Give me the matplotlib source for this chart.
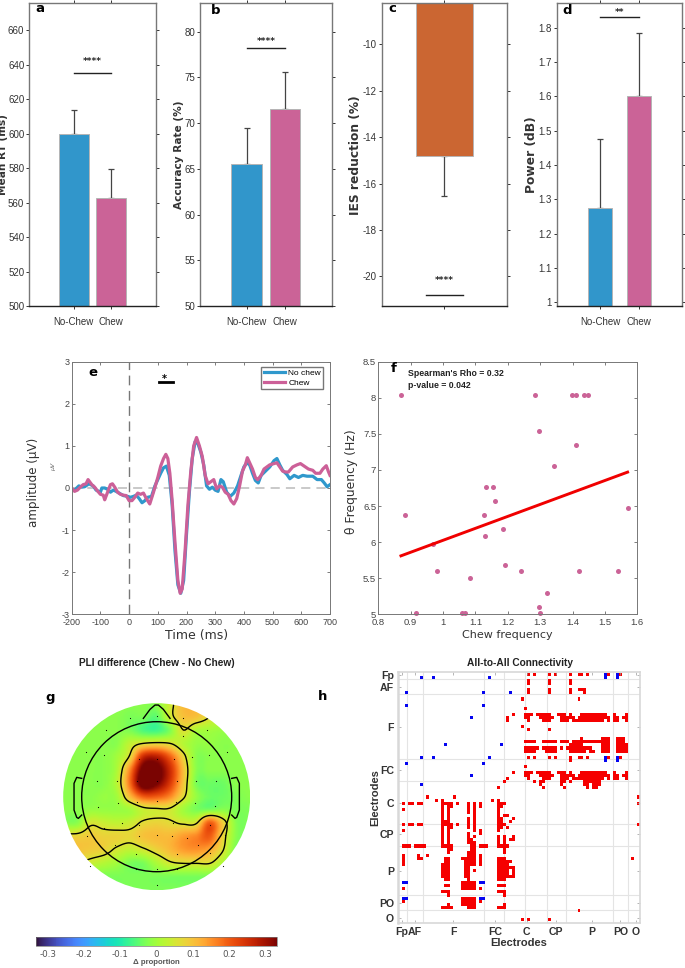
import numpy as np
import matplotlib
matplotlib.use("Agg")
import matplotlib.pyplot as plt
from matplotlib.cm import ScalarMappable
from matplotlib.colors import ListedColormap, Normalize
from matplotlib.patches import Circle
from matplotlib.ticker import FuncFormatter

plt.rcParams["axes.unicode_minus"] = False

W, H = 685, 968
BLUE = "#3196cb"
PINK = "#cb6397"
ORANGE = "#cb6632"
ARIAL = ["Liberation Sans"]

# behavioural bars
conditions = ["No-Chew", "Chew"]
rt_means = [600, 562.5]
rt_errs = [14, 17]
acc_means = [65.5, 71.5]
acc_errs = [4, 4.1]
ies_mean = -14.8
ies_err = 1.75
power_means = [1.275, 1.602]
power_errs = [0.202, 0.182]

# ERP traces
nochew_t = [-200,-190,-175,-165,-155,-140,-125,-115,-100,-95,-85,-75,-65,-55,-45,-35,-20,-5,5,15,25,35,45,55,65,78,90,100,110,120,130,140,150,160,170,180,190,200,210,220,230,240,250,260,270,280,290,300,310,320,328,340,352,365,378,390,400,410,420,430,440,450,460,475,490,505,515,525,535,550,560,575,590,605,620,640,655,670,680,690,700]
nochew_v = [-0.03,-0.05,0.05,0.02,0.03,0.1,0.05,-0.05,-0.1,0,0,-0.03,-0.1,-0.05,-0.08,-0.12,-0.18,-0.2,-0.22,-0.2,-0.17,-0.25,-0.35,-0.3,-0.22,-0.2,0.05,0.2,0.35,0.48,0.52,0.3,-0.4,-1.5,-2.3,-2.5,-2.2,-1.1,-0.1,0.7,1.1,1.05,0.85,0.55,0.05,-0.03,0.02,-0.05,-0.08,0.2,0.15,-0.1,-0.2,-0.12,0.05,0.3,0.5,0.6,0.55,0.35,0.18,0.12,0.3,0.4,0.5,0.65,0.7,0.55,0.42,0.32,0.22,0.3,0.25,0.3,0.28,0.28,0.2,0.2,0.12,0.03,0.08]
chew_t = [-200,-190,-180,-170,-160,-150,-143,-130,-120,-110,-100,-90,-85,-75,-65,-58,-50,-40,-30,-20,-10,0,10,20,30,40,50,60,72,85,100,110,120,128,135,142,150,160,170,178,185,195,205,215,225,235,245,255,265,275,285,295,305,315,325,335,345,355,365,375,385,395,405,412,420,430,440,448,460,470,480,490,505,515,525,535,545,555,570,585,597,610,625,640,650,665,675,687,695,700]
chew_v = [0,-0.08,-0.05,0.02,0.08,0.1,0.2,0.08,0.02,-0.07,-0.15,-0.17,-0.28,-0.1,0.08,0.1,0.02,-0.1,-0.15,-0.17,-0.18,-0.3,-0.3,-0.22,-0.12,-0.15,-0.12,-0.25,-0.38,-0.1,0.25,0.52,0.7,0.8,0.7,0.35,-0.3,-1.3,-2.2,-2.5,-2.4,-1.5,-0.4,0.4,1.0,1.2,1.0,0.75,0.3,0.1,0.15,0.2,-0.02,0.05,0.02,-0.1,-0.15,-0.3,-0.38,-0.25,0.05,0.4,0.55,0.72,0.6,0.45,0.25,0.2,0.3,0.45,0.5,0.55,0.58,0.6,0.5,0.4,0.38,0.38,0.5,0.55,0.58,0.52,0.45,0.42,0.35,0.35,0.45,0.53,0.38,0.3]

# correlation scatter
chew_freq = [0.87,0.883,0.915,0.97,0.98,1.06,1.067,1.082,1.128,1.13,1.132,1.153,1.16,1.185,1.19,1.24,1.285,1.295,1.297,1.298,1.32,1.343,1.398,1.412,1.41,1.42,1.436,1.447,1.54,1.572]
theta_freq = [8.04,6.38,5.02,5.98,5.6,5.02,5.02,5.5,6.38,6.08,6.76,6.76,6.57,6.18,5.69,5.6,8.04,5.1,7.54,5.02,5.3,7.06,8.04,8.04,7.35,5.6,8.04,8.04,5.6,6.47]
fit_x = [0.87, 1.57]
fit_y = [5.81, 6.97]

# scalp map, coarse samples in hundredths of a proportion
topo_axis = np.arange(-280, 281, 40) / 3
topo_grid = [
    [-2,-2,-2,-2,-2,-2,-2,-2, 4,11,11, 9,-2,-2,-2],
    [-2,-2,-2,-2,-2,-3,-3,-5, 4,10,10, 6, 2,-2,-2],
    [-2,-2,-2,-2,-2,-3,-6,-7,-3, 6, 1, 0,-1,-2,-2],
    [-2,-2,-2,-2,-2, 3, 6, 7, 6, 2,-1,-1,-2,-2,-2],
    [-2,-2,-2,-2, 0, 7,26,28,20, 8,-2,-2,-2,-2,-2],
    [-2,-2,-2,-2, 1,16,36,36,26,11,-2,-2,-2,-2,-2],
    [-2,-2,-2,-2, 2,18,38,34,24,10,-3,-4,-4,-2,-2],
    [-2,-2,-2,-1, 0,11,20,20,16, 7,-1,-4,-4,-3,-2],
    [-2,-2,-1,-1,-1, 0, 4, 5, 5, 0,-3,-3,-2,-3,-3],
    [-2,-2, 5, 4, 3, 4, 7, 8, 7,5.5,6,20, 9,-2,-3],
    [ 8, 8, 9, 8, 8,7.5,10,11,11,14,16,20, 8,-2,-3],
    [10,10, 9, 8, 5, 3, 5, 8,11,14,15,13, 6,-3,-3],
    [ 6, 6, 4, 2, 0,-3,-3, 1, 5, 6, 6, 6, 1,-3,-3],
    [-3,-3,-3,-3,-3,-3,-3,-3,-3,-3,-3,-3,-3,-3,-3],
    [-3,-3,-3,-3,-3,-3,-3,-3,-3,-3,-3,-3,-3,-3,-3],
]
electrode_x = [390,470,548,317,622,548,258,680,312,577,628,418,470,522,292,352,410,470,530,588,648,295,355,412,470,527,585,645,367,418,520,312,630,262,676,470,515,560,418,345,595,408,530,630,270,668,470,408,530,470]
electrode_y = [203,198,205,240,240,258,305,305,316,320,316,327,327,327,394,394,394,394,394,394,394,470,460,455,452,455,460,467,518,525,520,535,525,558,555,555,557,565,558,585,585,613,613,608,648,648,658,658,658,705]
nose_x = [-40,-20,-5,5,20,40]
nose_y = [-235,-262,-275,-275,-262,-235]
ear_x = [-225,-240,-248,-248,-240,-235,-225]
ear_y = [-55,-58,-40,40,62,65,55]

# connectivity matrix, significant pairs per row as single columns or (first, last)
n_channels = 81
red_pairs = {
    0: [43,45,50,52,57,(60,61),63,70,74], 2: [43,50,57], 3: [43,50,57],
    5: [43,50,57,(60,62)], 6: [43,50,57,62], 8: [41,60], 11: [42],
    13: [38,(42,44),(46,50),(53,55),57,(61,68),69,72,76],
    14: [36,(42,43),(47,51),(54,56),(57,58),(60,68),(69,70),(72,73),75,76],
    15: [36,43,(48,50),(54,56),(58,59),(60,68),70,(72,73),76],
    17: [41], 18: [43,50], 21: [61,(68,70),(73,75)],
    22: [(42,45),(48,52),(54,56),(58,59),(60,67),(68,70),(73,75)],
    23: [(57,59),(60,61),(68,70),(73,75),76],
    24: [(42,45),46,(48,52),54,(56,59),(60,63),64,(68,70),(73,75),76],
    25: [(42,45),(49,52),(57,59),(60,62),(64,65),(68,70),(73,75),76],
    27: [43,45,50,52,57,(60,61),63,70,74], 28: [57], 30: [42],
    32: [38,(42,44),(46,50),(53,55),57,(61,68),69,72,76],
    33: [(42,43),(47,51),(54,56),(57,58),(60,68),(69,70),(72,73),75,76],
    34: [36,43,(48,50),(54,56),(58,59),(60,68),70,(72,73),76],
    35: [35,45,(47,48),(54,55),57,(62,67)], 36: [47,54,(62,63),(65,67)],
    37: [33,48,55,63,65,66], 40: [9,18,80], 41: [12,14,31,33],
    42: [1,(3,4),(6,7),(14,17),19,23,25,27,(33,35),80],
    43: [14,(16,17),23,25,27,(33,34)], 44: [1,14,16,23,25,33],
    45: [14,16,23,25,33], 46: [14,16,25,33,35,36],
    47: [14,16,23,25,33,34,38], 48: [(14,16),23,25,(33,34),37],
    49: [1,(3,4),(6,7),(14,17),19,23,25,(33,35),80],
    50: [14,(16,17),23,25,(33,34),36], 51: [1,14,16,25,27,33],
    52: [14,16,23,27], 53: [14,16,23,25,33,35,38],
    54: [14,16,23,24,33,35,37,38], 55: [14,16,(23,25),33,35],
    56: [(1,3),5,(6,8),(14,17),(24,25),(27,29),(33,36)],
    57: [(16,17),(24,25),35], 58: [16,(23,25),35], 59: [1,6,9,(23,25),27],
    60: [1,(6,7),(15,16),(21,25),27,(33,35),78],
    61: [1,(15,16),(22,25),27,(33,37)], 62: [1,(14,16),(22,25),27,(33,36)],
    63: [(14,16),(22,23),(33,38)], 64: [(14,16),22,23,25,(33,36),38],
    65: [(14,16),(22,23),(33,36),38], 66: [(14,16),(22,23),(33,38)],
    67: [(15,16),23,(33,35)], 68: [(21,25)], 69: [(15,16),(21,25),(33,35)],
    70: [1,27,(21,25)], 71: [(14,16),(33,35)], 72: [16,35], 73: [(21,25)],
    74: [1,27,(21,25)], 75: [16,(21,25),35], 76: [(14,17),(23,25),(33,35)],
    77: [60], 80: [41,43,50],
}
blue_pairs = {
    0: [69,73], 1: [7,11,30,69,73], 6: [2,28,37], 10: [2,28], 14: [24], 23: [15,34],
    27: [7,11,30,69,73], 28: [69,73], 29: [2,28], 33: [24], 36: [7],
    68: [(1,2),(27,28)], 73: [(1,2),(27,28)],
}
region_names = ["Fp","AF","F","FC","C","CP","P","PO","O"]
region_x = [0.5,5,18,32,42.7,52.5,64.6,74.3,79.4]
region_y = [0,4,17,31,42,52,64,74.5,79.5]
grid_cols = [2.45,7.6,28.3,35,42,49.4,56,71.9,76.9]
grid_rows = [1.5,6.4,27.6,34.6,48.7,55.8,72,77]


def px_axes(left, top, right, bottom):
    return fig.add_axes([left / W, 1 - bottom / H, (right - left) / W, (bottom - top) / H])


def px_text(x, y, s, **kw):
    kw.setdefault("ha", "center")
    kw.setdefault("va", "center")
    return fig.text(x / W, 1 - y / H, s, **kw)


def bar_panel(box, xlim, ylim, yticks, means, errs, width, sig_y, star_y, stars):
    ax = px_axes(*box)
    ax.bar([1, 2], means, width=width, color=[BLUE, PINK], edgecolor="#b5b5b5", linewidth=0.7, zorder=2)
    ax.errorbar([1, 2], means, yerr=[[0, 0], errs], fmt="none", ecolor="#444444", elinewidth=0.9,
                capsize=2.4, capthick=0.9, zorder=1)
    ax.plot([1, 2], [sig_y, sig_y], color="#222222", lw=1)
    ax.text(1.5, star_y, stars, ha="center", va="center", fontsize=6.5, color="#222222", fontweight="bold")
    style_box(ax, xlim, ylim, yticks)
    ax.set_xticks([1, 2], conditions, fontfamily=ARIAL, fontsize=7, color="#333333")
    ax.tick_params(axis="x", pad=6)
    return ax


def style_box(ax, xlim, ylim, yticks):
    ax.set_xlim(*xlim)
    ax.set_ylim(*ylim)
    ax.set_yticks(yticks)
    ax.tick_params(axis="both", direction="out", length=2.2, width=0.7, color="#333333", top=True, right=True,
                   labelsize=7, labelcolor="#333333", pad=1.2)
    for label in ax.get_yticklabels():
        label.set_fontfamily(ARIAL)
    for side in ax.spines:
        ax.spines[side].set_color("#777777")
        ax.spines[side].set_linewidth(1)
    ax.spines["bottom"].set_color("#222222")


def light_box(ax, size):
    ax.tick_params(direction="in", length=2.5, width=0.6, color="#666666", labelsize=size, labelcolor="#444444",
                   pad=1.5, top=True, right=True)
    ax.tick_params(axis="x", pad=2.8)
    for label in ax.get_xticklabels() + ax.get_yticklabels():
        label.set_fontfamily(ARIAL)
    for side in ax.spines:
        ax.spines[side].set_color("#777777")
        ax.spines[side].set_linewidth(0.7)


def expand(pairs):
    cells = []
    for row, cols in pairs.items():
        for col in cols:
            first, last = col if isinstance(col, tuple) else (col, col)
            cells += [(row, c) for c in range(first, last + 1)]
    return cells


def upsample(values, factor):
    # Catmull-Rom resampling along the first axis
    n = values.shape[0]
    pos = np.linspace(0, n - 1, (n - 1) * factor + 1)
    i = np.clip(pos.astype(int), 0, n - 2)
    t = (pos - i)[:, None]
    p0 = values[np.clip(i - 1, 0, n - 1)]
    p1 = values[i]
    p2 = values[i + 1]
    p3 = values[np.clip(i + 2, 0, n - 1)]
    return 0.5 * (2 * p1 + (p2 - p0) * t + (2 * p0 - 5 * p1 + 4 * p2 - p3) * t ** 2 + (3 * p1 - p0 - 3 * p2 + p3) * t ** 3)


fig = plt.figure(figsize=(W / 100, H / 100), dpi=100, facecolor="white")

# a-d: bar panels
bar_panel((29, 3.3, 156, 306), (-0.2, 3.2), (500, 675.7), range(500, 661, 20), rt_means, rt_errs, 0.8, 635, 642, "****")
bar_panel((200, 3.3, 331.7, 306), (-0.22, 3.22), (50, 83.1), range(50, 81, 5), acc_means, acc_errs, 0.8, 78.2, 78.9, "****")

ax_c = px_axes(381.7, 3.3, 507.3, 306)
ax_c.bar([1], [ies_mean], width=0.8, color=ORANGE, edgecolor="#b5b5b5", linewidth=0.7, zorder=2)
ax_c.errorbar([1], [ies_mean], yerr=[[ies_err], [0]], fmt="none", ecolor="#444444", elinewidth=0.9,
              capsize=2.4, capthick=0.9, zorder=1)
ax_c.plot([0.74, 1.26], [-20.8, -20.8], color="#222222", lw=1)
ax_c.text(1, -20.2, "****", ha="center", va="center", fontsize=6.5, color="#222222", fontweight="bold")
style_box(ax_c, (0.126, 1.88), (-21.28, -8.23), range(-20, -9, 2))
ax_c.set_xticks([1], [""])

ax_d = bar_panel((556.7, 3.3, 682.3, 306), (-0.11, 3.11), (0.989, 1.871), [1, 1.1, 1.2, 1.3, 1.4, 1.5, 1.6, 1.7, 1.8],
                 power_means, power_errs, 0.61, 1.83, 1.845, "**")
ax_d.yaxis.set_major_formatter(FuncFormatter(lambda v, p: f"{v:g}"))

px_text(3.5, 155, "Mean RT (ms)", rotation=90, fontsize=7.6, fontweight="bold", color="#333333")
px_text(179, 155, "Accuracy Rate (%)", rotation=90, fontsize=7.6, fontweight="bold", color="#333333")
px_text(356, 155, "IES reduction (%)", rotation=90, fontsize=8.8, color="#333333", fontweight="bold")
px_text(531, 155, "Power (dB)", rotation=90, fontsize=8.8, color="#333333", fontweight="bold")

# e: ERP
ax_e = px_axes(71.7, 361.7, 330, 614.3)
ax_e.axhline(0, color="#bbbbbb", lw=1.1, dashes=(6, 4))
ax_e.axvline(0, color="#777777", lw=1, dashes=(7, 4))
ax_e.plot(nochew_t, nochew_v, color="#2f98cc", lw=2.3, label="No chew")
ax_e.plot(chew_t, chew_v, color="#cc6098", lw=2.3, label="Chew")
ax_e.plot([105, 153], [2.51, 2.51], color="black", lw=2)
ax_e.text(123, 2.6, "*", ha="center", va="center", fontsize=7, fontweight="bold")
ax_e.set_xlim(-200, 700)
ax_e.set_ylim(-3, 3)
ax_e.set_xticks(range(-200, 701, 100))
ax_e.set_yticks(range(-3, 4))
light_box(ax_e, 6.5)
ax_e.legend(loc="upper right", bbox_to_anchor=(0.974, 0.98), frameon=True, fancybox=False,
            edgecolor="#777777", framealpha=1, borderaxespad=0, borderpad=0.3, labelspacing=0.2,
            handlelength=2.5, handletextpad=0.4, prop={"family": ARIAL, "size": 6})
px_text(33, 482, "amplitude (μV)", rotation=90, fontsize=8.6, color="#333333")
px_text(54, 467, "μV", rotation=90, fontsize=4.5, color="#666666", style="italic")
px_text(197, 636, "Time (ms)", fontsize=9, color="#333333")

# f: scatter
ax_f = px_axes(378.3, 361.7, 637.3, 614.3)
ax_f.plot(fit_x, fit_y, color="#f00000", lw=2.1, zorder=3)
ax_f.scatter(chew_freq, theta_freq, s=13, color=PINK, linewidths=0, zorder=2, clip_on=False)
ax_f.set_xlim(0.8, 1.6)
ax_f.set_ylim(5, 8.5)
ax_f.set_xticks(np.arange(0.8, 1.61, 0.1))
ax_f.set_yticks(np.arange(5, 8.51, 0.5))
ax_f.xaxis.set_major_formatter(FuncFormatter(lambda v, p: f"{v:g}"))
ax_f.yaxis.set_major_formatter(FuncFormatter(lambda v, p: f"{v:g}"))
light_box(ax_f, 6.8)
px_text(408, 374, "Spearman's Rho = 0.32", ha="left", fontsize=6.3, fontweight="bold", color="#222222", fontfamily=ARIAL)
px_text(408, 385, "p-value = 0.042", ha="left", fontsize=6.3, fontweight="bold", color="#222222", fontfamily=ARIAL)
px_text(351, 482, "θ Frequency (Hz)", rotation=90, fontsize=8.9, color="#333333")
px_text(507, 635, "Chew frequency", fontsize=8, color="#333333")

# g: scalp map
ax_g = px_axes(56.7, 696.7, 256.7, 896.7)
ax_g.set_xlim(-100, 100)
ax_g.set_ylim(100, -100)
ax_g.axis("off")
samples = np.array(topo_grid) / 100
fine = upsample(upsample(samples, 8).T, 8).T
fine_axis = np.linspace(topo_axis[0], topo_axis[-1], fine.shape[0])
img = ax_g.imshow(fine, cmap="turbo", vmin=-0.333, vmax=0.333, origin="upper", interpolation="bilinear",
                  extent=(fine_axis[0], fine_axis[-1], fine_axis[-1], fine_axis[0]))
scalp = Circle((0, 0), 93.5, transform=ax_g.transData)
img.set_clip_path(scalp)
lines = ax_g.contour(fine_axis, fine_axis, fine, levels=[0.06], colors="black", linewidths=1)
lines.set_clip_path(scalp)
ax_g.add_patch(Circle((0, 0), 75, fill=False, edgecolor="black", lw=1))
ax_g.plot(np.array(nose_x) / 3, np.array(nose_y) / 3, color="black", lw=1)
ax_g.plot(np.array(ear_x) / 3, np.array(ear_y) / 3, color="black", lw=1)
ax_g.plot(-np.array(ear_x) / 3, np.array(ear_y) / 3, color="black", lw=1)
ax_g.scatter((np.array(electrode_x) - 470) / 3, (np.array(electrode_y) - 440) / 3, s=0.7, color="black", linewidths=0)
px_text(156.7, 663, "PLI difference (Chew - No Chew)", fontsize=7.3, fontweight="bold", color="#222222", fontfamily=ARIAL)

cax = px_axes(35.7, 937.3, 277.3, 945.7)
cbar = fig.colorbar(ScalarMappable(Normalize(-0.333, 0.333), "turbo"), cax=cax, orientation="horizontal")
cbar.set_ticks([-0.3, -0.2, -0.1, 0, 0.1, 0.2, 0.3], labels=["-0.3", "-0.2", "-0.1", "0", "0.1", "0.2", "0.3"])
cbar.ax.tick_params(length=0, labelsize=6.3, labelcolor="#555555", pad=3)
cbar.outline.set_edgecolor("#777777")
cbar.outline.set_linewidth(0.5)
px_text(156.5, 963, "Δ proportion", fontsize=5.6, fontweight="bold", color="#555555", fontfamily=ARIAL)

# h: all-to-all matrix
ax_h = px_axes(398.3, 671.7, 640, 922.7)
cells = np.full((n_channels, n_channels), np.nan)
for r, c in expand(red_pairs):
    cells[r, c] = 0
for r, c in expand(blue_pairs):
    cells[r, c] = 1
for c in grid_cols:
    ax_h.axvline(c, color="#e4e4e4", lw=0.8, zorder=0)
for r in grid_rows:
    ax_h.axhline(r, color="#e4e4e4", lw=0.8, zorder=0)
ax_h.imshow(cells, cmap=ListedColormap(["#f50000", "#0505f0"]), vmin=0, vmax=1, aspect="auto",
            interpolation="nearest", zorder=1)
ax_h.set_xlim(-0.6, 80.9)
ax_h.set_ylim(81, -1)
ax_h.set_xticks(region_x, region_names)
ax_h.set_yticks(region_y, region_names)
ax_h.tick_params(direction="in", length=2, width=0.5, color="#999999", labelsize=7.6, labelcolor="#333333",
                 pad=3, top=True, right=True)
for label in ax_h.get_xticklabels() + ax_h.get_yticklabels():
    label.set_fontfamily(ARIAL)
    label.set_fontweight("bold")
for side in ax_h.spines:
    ax_h.spines[side].set_color("#d8d8d8")
    ax_h.spines[side].set_linewidth(1.2)
ax_h.spines["left"].set_linewidth(1.8)
px_text(520, 663, "All-to-All Connectivity", fontsize=7.3, fontweight="bold", color="#222222", fontfamily=ARIAL)
px_text(519, 943, "Electrodes", fontsize=8, fontweight="bold", color="#333333", fontfamily=ARIAL)
px_text(375, 798, "Electrodes", rotation=90, fontsize=8, fontweight="bold", color="#333333", fontfamily=ARIAL)

# panel letters
for x, y, letter in [(40, 8, "a"), (216, 10, "b"), (392, 9, "c"), (567, 11, "d"),
                     (93, 372, "e"), (394, 369, "f"), (50, 698, "g"), (323, 697, "h")]:
    px_text(x, y, letter, fontsize=9.5, fontweight="bold", color="black")

fig.savefig("out.png", dpi=100)
